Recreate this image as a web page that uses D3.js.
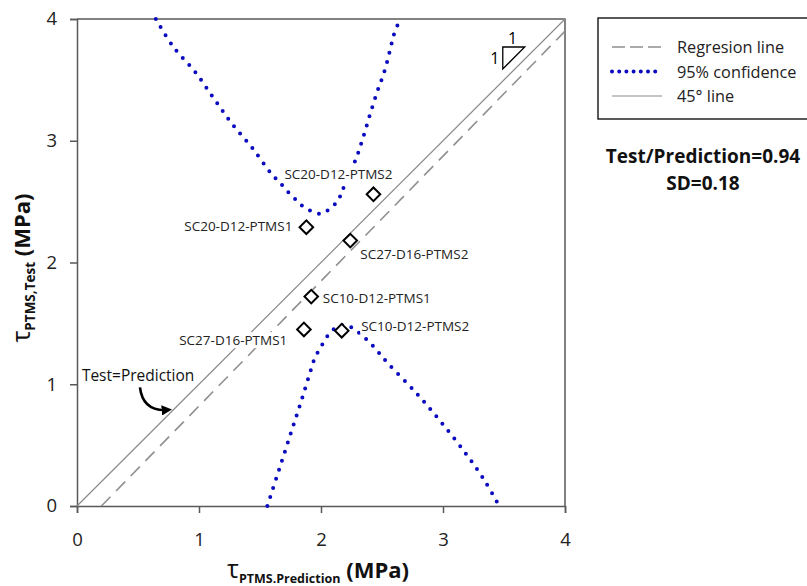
<!DOCTYPE html>
<html>
<head>
<meta charset="utf-8">
<script src="https://cdn.jsdelivr.net/npm/d3@7"></script>
<style>
  html, body { margin: 0; padding: 0; background: #fff; }
  svg { display: block; font-family: "Open Sans", "DejaVu Sans", sans-serif; }
</style>
</head>
<body>
<svg id="chart" width="807" height="586"></svg>
<script>
// ---------- data ----------
const xTicks = [0, 1, 2, 3, 4];
const yTicks = [0, 1, 2, 3, 4];

const specimenNames = ["SC20-D12-PTMS1", "SC20-D12-PTMS2", "SC27-D16-PTMS2", "SC10-D12-PTMS1", "SC27-D16-PTMS1", "SC10-D12-PTMS2"];
const predictionValues = [1.88, 2.43, 2.24, 1.92, 1.86, 2.17];
const testValues = [2.29, 2.56, 2.18, 1.72, 1.45, 1.44];

const regressionLine = [[0.2, 0], [4, 3.9]];
const line45 = [[0, 0], [4, 4]];

const upperConfidence = [
  [0.646, 4.00], [0.79, 3.77], [0.965, 3.57], [1.115, 3.357], [1.27, 3.14], [1.437, 2.94],
  [1.60, 2.72], [1.66, 2.66], [1.73, 2.58], [1.80, 2.51], [1.865, 2.45], [1.93, 2.42],
  [2.00, 2.40], [2.07, 2.44], [2.14, 2.51], [2.17, 2.58], [2.23, 2.72], [2.29, 2.86],
  [2.34, 3.01], [2.40, 3.21], [2.46, 3.40], [2.52, 3.57], [2.565, 3.74], [2.60, 3.88], [2.65, 4.00]
];
const lowerConfidence = [
  [1.56, 0.00], [1.66, 0.31], [1.76, 0.62], [1.85, 0.90], [1.93, 1.16], [1.95, 1.22],
  [1.99, 1.29], [2.03, 1.36], [2.08, 1.43], [2.15, 1.48], [2.22, 1.48], [2.29, 1.44],
  [2.36, 1.38], [2.43, 1.31], [2.49, 1.24], [2.55, 1.17], [2.77, 0.94], [2.975, 0.70],
  [3.18, 0.44], [3.34, 0.21], [3.46, 0.00]
];

const legendLabels = ["Regresion line", "95% confidence", "45° line"];
const statLines = ["Test/Prediction=0.94", "SD=0.18"];

// ---------- layout / style ----------
const plot = { left: 77, right: 565, top: 19, bottom: 506 };
// label placement (pixel offsets from the marker), anchor
const labelPlacement = [
  { dx: -14, dy: -1, anchor: "end" },
  { dx: -35, dy: -20, anchor: "middle" },
  { dx: 10, dy: 13, anchor: "start" },
  { dx: 11.5, dy: 1, anchor: "start" },
  { dx: -16.6, dy: 10.7, anchor: "end" },
  { dx: 19.4, dy: -5, anchor: "start" }
];
const axisColor = "#595959";
const blue = "#0b0bbf";

const svg = d3.select("#chart");
const x = d3.scaleLinear().domain([0, 4]).range([plot.left, plot.right]);
const y = d3.scaleLinear().domain([0, 4]).range([plot.bottom, plot.top]);

// ---------- frame (top & right) ----------
svg.append("path")
  .attr("d", `M${x(0)},${y(4)}H${x(4)}V${y(0)}`)
  .attr("fill", "none").attr("stroke", axisColor).attr("stroke-width", 1.5);

// ---------- axes ----------
const xAxis = svg.append("g").attr("transform", `translate(0,${y(0)})`)
  .call(d3.axisBottom(x).tickValues(xTicks).tickFormat(d3.format("d")).tickSizeOuter(0).tickSize(7).tickPadding(20));
const yAxis = svg.append("g").attr("transform", `translate(${x(0)},0)`)
  .call(d3.axisLeft(y).tickValues(yTicks).tickFormat(d3.format("d")).tickSizeOuter(0).tickSize(7).tickPadding(13));
[xAxis, yAxis].forEach(a => {
  a.select(".domain").attr("stroke", axisColor).attr("stroke-width", 1.5);
  a.selectAll(".tick line").attr("stroke", axisColor).attr("stroke-width", 1.5);
  a.selectAll(".tick text").attr("fill", "#222").style("font-size", "18.5px")
    .style("font-family", "'Open Sans', sans-serif");
});

// ---------- lines ----------
const lineGen = d3.line().x(d => x(d[0])).y(d => y(d[1]));
svg.append("path").datum(line45).attr("d", lineGen)
  .attr("fill", "none").attr("stroke", "#8a8a8a").attr("stroke-width", 1.2);
svg.append("path").datum(regressionLine).attr("d", lineGen)
  .attr("fill", "none").attr("stroke", "#8f8f8f").attr("stroke-width", 1.6)
  .attr("stroke-dasharray", "13 8");

const curveGen = d3.line().x(d => x(d[0])).y(d => y(d[1])).curve(d3.curveCatmullRom);
[upperConfidence, lowerConfidence].forEach(c => {
  svg.append("path").datum(c).attr("d", curveGen)
    .attr("fill", "none").attr("stroke", blue).attr("stroke-width", 4)
    .attr("stroke-linecap", "round").attr("stroke-dasharray", "0 9.5");
});

// ---------- slope triangle ----------
const tri = [[3.49, 3.77], [3.67, 3.77], [3.49, 3.59]];
svg.append("path").attr("d", "M" + tri.map(p => `${x(p[0])},${y(p[1])}`).join("L") + "Z")
  .attr("fill", "none").attr("stroke", "#000").attr("stroke-width", 1.3);
svg.append("text").attr("x", x(3.57)).attr("y", y(3.77) - 9).attr("text-anchor", "middle")
  .attr("dominant-baseline", "central").style("font-size", "16px").text("1");
svg.append("text").attr("x", x(3.49) - 8).attr("y", y(3.68)).attr("text-anchor", "middle")
  .attr("dominant-baseline", "central").style("font-size", "16px").text("1");

// ---------- data labels (white background) ----------
const pts = specimenNames.map((n, i) => ({ name: n, px: predictionValues[i], ty: testValues[i], lp: labelPlacement[i] }));
const labG = svg.append("g");
pts.forEach(p => {
  const g = labG.append("g");
  const t = g.append("text")
    .attr("x", x(p.px) + p.lp.dx).attr("y", y(p.ty) + p.lp.dy)
    .attr("text-anchor", p.lp.anchor).attr("dominant-baseline", "central")
    .style("font-size", "13.5px").attr("fill", "#222").text(p.name);
  const bb = t.node().getBBox();
  g.insert("rect", "text").attr("x", bb.x - 1).attr("y", bb.y + 1).attr("width", bb.width + 2)
    .attr("height", bb.height - 2).attr("fill", "#fff");
});

// ---------- markers ----------
const diamond = d3.symbol().type(d3.symbolSquare).size(92);
svg.append("g").selectAll("path").data(pts).join("path")
  .attr("d", diamond)
  .attr("transform", d => `translate(${x(d.px)},${y(d.ty)}) rotate(45)`)
  .attr("fill", "#fff").attr("stroke", "#000").attr("stroke-width", 2);

// ---------- Test=Prediction annotation ----------
svg.append("text").attr("x", x(0.04)).attr("y", y(1.08)).attr("dominant-baseline", "central")
  .style("font-size", "15.5px").attr("fill", "#111").text("Test=Prediction");
svg.append("defs").append("marker").attr("id", "ah").attr("viewBox", "0 0 10 10")
  .attr("refX", 6).attr("refY", 5).attr("markerWidth", 4).attr("markerHeight", 4)
  .attr("orient", "auto").append("path").attr("d", "M0,0L10,5L0,10Z").attr("fill", "#000");
const a0 = [x(0.516), y(0.975)], a1 = [x(0.745), y(0.79)];
svg.append("path")
  .attr("d", `M${a0[0]},${a0[1]} Q${a0[0] + 3},${a1[1] + 2} ${a1[0]},${a1[1]}`)
  .attr("fill", "none").attr("stroke", "#000").attr("stroke-width", 2.6)
  .attr("marker-end", "url(#ah)");

// ---------- axis titles ----------
const xt = svg.append("text").attr("x", 318).attr("y", 578).attr("text-anchor", "middle")
  .attr("fill", "#111").style("font-weight", "bold");
xt.append("tspan").style("font-size", "25px").style("font-weight", "normal").text("τ");
xt.append("tspan").style("font-size", "12.5px").attr("dy", 5).text("PTMS.Prediction");
xt.append("tspan").style("font-size", "22px").attr("dy", -5).text(" (MPa)");

const yt = svg.append("text").attr("transform", "translate(30,268) rotate(-90)")
  .attr("text-anchor", "middle").attr("fill", "#111").style("font-weight", "bold");
yt.append("tspan").style("font-size", "25px").style("font-weight", "normal").text("τ");
yt.append("tspan").style("font-size", "13.5px").attr("dy", 5).text("PTMS,Test");
yt.append("tspan").style("font-size", "22px").attr("dy", -5).text(" (MPa)");

// ---------- legend ----------
const lg = svg.append("g");
lg.append("rect").attr("x", 598).attr("y", 18).attr("width", 220).attr("height", 101)
  .attr("fill", "#fff").attr("stroke", "#000").attr("stroke-width", 1.3);
const legendStyles = [
  { stroke: "#8f8f8f", w: 1.6, dash: "13 5", cap: "butt" },
  { stroke: blue, w: 4, dash: "0 7.2", cap: "round" },
  { stroke: "#8a8a8a", w: 1.2, dash: null, cap: "butt" }
];
const legendY = [47, 71.5, 96];
legendLabels.forEach((lab, i) => {
  const s = legendStyles[i];
  lg.append("line").attr("x1", 612).attr("x2", 662).attr("y1", legendY[i]).attr("y2", legendY[i])
    .attr("stroke", s.stroke).attr("stroke-width", s.w).attr("stroke-linecap", s.cap)
    .attr("stroke-dasharray", s.dash);
  lg.append("text").attr("x", 677).attr("y", legendY[i]).attr("dominant-baseline", "central")
    .style("font-size", "16.3px").attr("fill", "#222").text(lab);
});

// ---------- stats ----------
statLines.forEach((s, i) => {
  svg.append("text").attr("x", 703).attr("y", 156 + i * 26.5).attr("text-anchor", "middle")
    .attr("dominant-baseline", "central").style("font-size", "19px").style("font-weight", "bold")
    .attr("fill", "#111").text(s);
});
</script>
</body>
</html>
